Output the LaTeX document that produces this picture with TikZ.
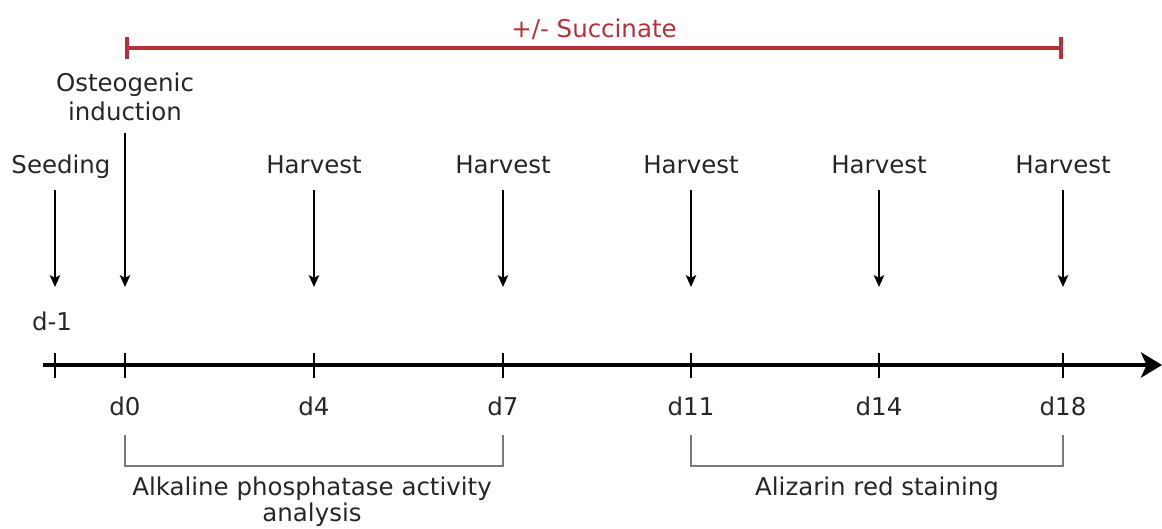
\documentclass[tikz,border=0pt]{standalone}
\usepackage{fontspec}
\setmainfont{DejaVu Sans}
\usepackage{xcolor}
\usetikzlibrary{arrows.meta}
\usetikzlibrary{positioning}
\definecolor{succinato}{HTML}{B5313A}
\definecolor{chave}{HTML}{7A7A7A}
\tikzset{
  rotulo/.style={font=\fontsize{17.4}{20.6}\selectfont, inner sep=0pt, align=center, text=black!85},
  eixo/.style={line width=2.3pt, -{Stealth[length=15pt, width=18pt, inset=4pt]}},
  marca/.style={line width=1pt},
  seta/.style={line width=1pt, -{Stealth[length=8.5pt, width=7.5pt, inset=2pt]}},
  intervalo/.style={line width=2.2pt, succinato, {Bar[width=16pt, line width=2.8pt]}-{Bar[width=16pt, line width=2.8pt]}},
  chaveta/.style={line width=0.8pt, chave},
}

\begin{document}
\begin{tikzpicture}[x=0.025cm, y=-0.025cm]
  \useasboundingbox (0,0) rectangle (1162,528);

  % tratamento com succinato
  \coordinate (s0) at (125,48);
  \coordinate (s18) at (1063,48);
  \draw[intervalo] (s0) -- (s18);
  \node[rotulo, anchor=base, text=succinato] (succ) at (594,37) {+/- Succinate};

  % eixo do tempo
  \coordinate (inicio) at (43,365);
  \coordinate (fim) at (1162,365);
  \draw[eixo] (inicio) -- (fim);
  \foreach \x/\d in {55/m1,125/0,314/4,503/7,691/11,879/14,1063/18}
    \draw[marca] (\x,353) -- (\x,378);

  % dias
  \node[rotulo, anchor=base] (dm1) at (52,330) {d-1};
  \foreach \x/\d in {125/0,314/4,503/7,691/11,879/14,1063/18}
    \node[rotulo, anchor=base] (d\d) at (\x,415) {d\d};

  % eventos
  \node[rotulo, anchor=base] (seed) at (61,173) {Seeding};
  \node[rotulo, anchor=north] (osteo) at (125,73) {Osteogenic\\induction};
  \coordinate (pm1) at (55,190);
  \coordinate (qm1) at (55,287);
  \coordinate (p0) at (125,133);
  \coordinate (q0) at (125,287);
  \draw[seta] (pm1) -- (qm1);
  \draw[seta] (p0) -- (q0);
  \foreach \x/\d in {314/4,503/7,691/11,879/14,1063/18} {
    \node[rotulo, anchor=base] (h\d) at (\x,173) {Harvest};
    \coordinate (p\d) at (\x,190);
    \coordinate (q\d) at (\x,287);
    \draw[seta] (p\d) -- (q\d);
  }

  % analises
  \draw[chaveta] (125,435) -- (125,466) -- (503,466) -- (503,435);
  \draw[chaveta] (691,435) -- (691,466) -- (1063,466) -- (1063,435);
  \node[rotulo, anchor=north, font=\fontsize{17.4}{18}\selectfont] (alp) at (312,477) {Alkaline phosphatase activity\\analysis};
  \node[rotulo, anchor=north] (ars) at (877,477) {Alizarin red staining};
\end{tikzpicture}
\end{document}
